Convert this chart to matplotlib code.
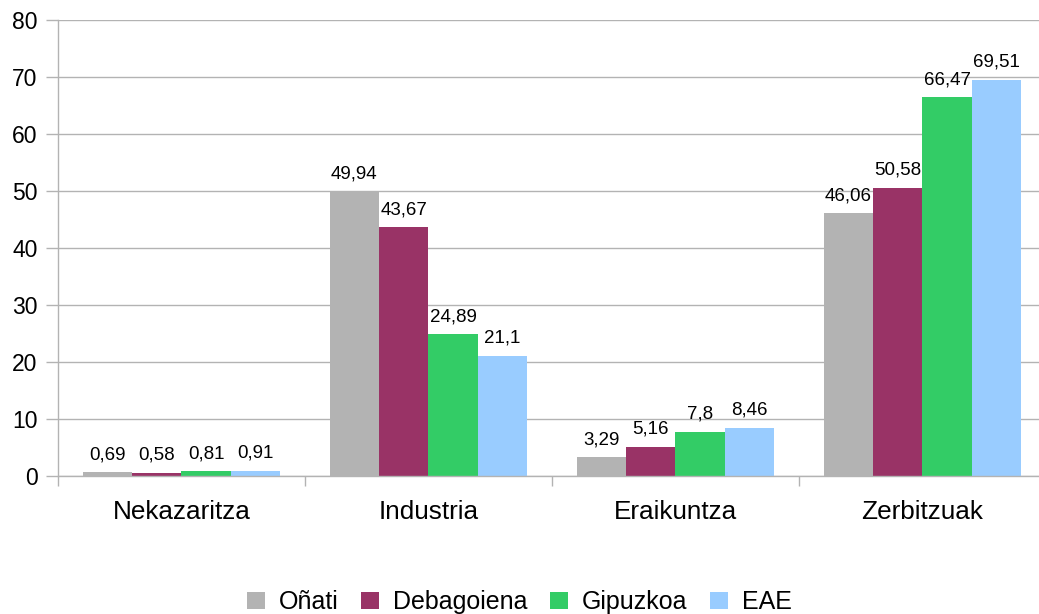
import numpy as np
import matplotlib
matplotlib.use("Agg")
import matplotlib.pyplot as plt

plt.rcParams["font.family"] = ["Liberation Sans", "DejaVu Sans"]

categories = ["Nekazaritza", "Industria", "Eraikuntza", "Zerbitzuak"]
series = ["Oñati", "Debagoiena", "Gipuzkoa", "EAE"]
onati = [0.69, 49.94, 3.29, 46.06]
debagoiena = [0.58, 43.67, 5.16, 50.58]
gipuzkoa = [0.81, 24.89, 7.8, 66.47]
eae = [0.91, 21.1, 8.46, 69.51]
colors = ["#b3b3b3", "#993366", "#33cc66", "#99ccff"]

values = [onati, debagoiena, gipuzkoa, eae]

fig = plt.figure(figsize=(10.39, 6.14), dpi=100)
# plot area runs past the right edge of the image, as in the original
ax = fig.add_axes([58 / 1039, 1 - 476 / 614, (1046 - 58) / 1039, (476 - 20) / 614])

x = np.arange(len(categories))
w = 0.2
for i, (name, vals, c) in enumerate(zip(series, values, colors)):
    pos = x + (i - 1.5) * w
    ax.bar(pos, vals, width=w, color=c, label=name, zorder=2)
    for p, v in zip(pos, vals):
        txt = f"{v:g}".replace(".", ",")
        ax.annotate(txt, (p, v), xytext=(0, 6.5), textcoords="offset points",
                    ha="center", va="bottom", fontsize=13.5, zorder=3)

ax.set_xlim(-0.5, 3.5)
ax.set_ylim(0, 80)
ax.set_yticks(range(0, 81, 10))
ax.yaxis.grid(True, color="#b3b3b3", linewidth=1, zorder=0)
ax.set_axisbelow(True)

ax.set_xticks(x)
ax.set_xticklabels(categories, fontsize=18.8)
ax.set_xticks(np.arange(-0.5, 4, 1), minor=True)
ax.tick_params(axis="x", which="major", length=0, pad=17)
ax.tick_params(axis="x", which="minor", length=7.5, color="#b3b3b3", width=1)
ax.tick_params(axis="y", length=8.6, color="#b3b3b3", width=1, labelsize=16.5, pad=6)

for s in ["top", "right"]:
    ax.spines[s].set_visible(False)
for s in ["left", "bottom"]:
    ax.spines[s].set_color("#b3b3b3")
    ax.spines[s].set_linewidth(1)

fig.legend(loc="center", bbox_to_anchor=(0.5, 1 - 602 / 614), ncol=4,
           frameon=False, fontsize=18, handlelength=0.7, handleheight=0.7,
           handletextpad=0.56, columnspacing=0.92)

fig.savefig("out.png", dpi=100)
